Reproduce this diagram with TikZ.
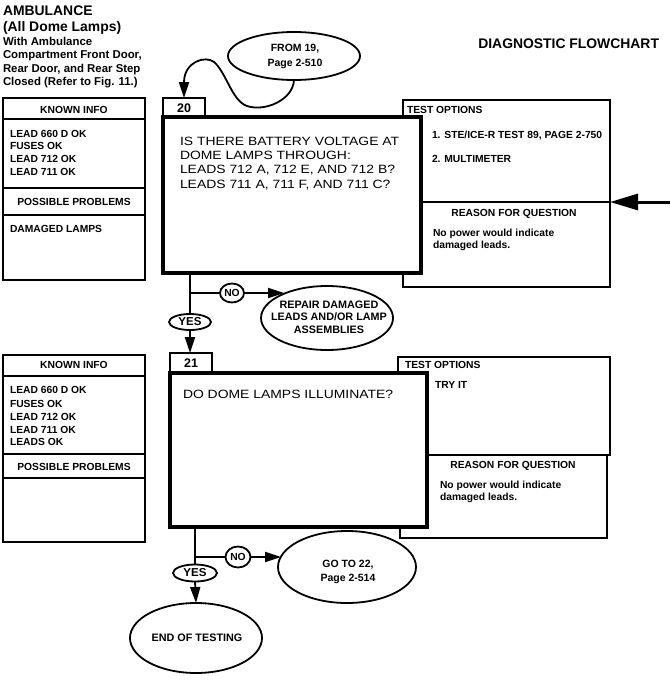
\documentclass[tikz,border=0pt]{standalone}
\usepackage{fontspec}
\setmainfont{Liberation Sans}
\newfontfamily\qfont[FakeStretch=1.16]{Liberation Sans}
\usetikzlibrary{arrows.meta,shapes.geometric}
\newcommand\myTitle{\fontsize{13.9}{16}\selectfont\bfseries}
\newcommand\myNote{\fontsize{11.4}{13.5}\selectfont\bfseries}
\newcommand\mySmall{\fontsize{10.3}{12.5}\selectfont\bfseries}
\newcommand\myYes{\fontsize{11.5}{12.5}\selectfont\bfseries}
\newcommand\myOval{\fontsize{10.5}{14.5}\selectfont\bfseries}
\newcommand\myRep{\fontsize{10.8}{12.6}\selectfont\bfseries}
\newcommand\myQ{\qfont\fontsize{12}{14.3}\selectfont}
\newcommand\myNum{\fontsize{12.5}{14}\selectfont\bfseries}
\begin{document}
\begin{tikzpicture}[x=1pt,y=-1pt,
  every node/.style={inner sep=0pt, outer sep=0pt},
  pbox/.style={draw, line width=1.3pt, anchor=north west, fill=white},
  qbox/.style={draw, line width=4pt, anchor=north west, fill=white},
  myoval/.style={draw, ellipse, line width=1.8pt, fill=white},
  conn/.style={line width=1.8pt},
  arr/.style={-{Triangle[length=16pt,width=10pt]}},
  itxt/.style={anchor=base west, font=\mySmall},
  hdtxt/.style={anchor=center, font=\mySmall},
  qtxt/.style={anchor=base west, font=\myQ},
]
\useasboundingbox (0,0) rectangle (670,699);

% header texts
\node[anchor=base west,font=\myTitle] (t1) at (3,15) {AMBULANCE};
\node[anchor=base west,font=\myTitle] (t2) at (3,31) {(All Dome Lamps)};
\node[anchor=base west,font=\myNote] (t3) at (3,45) {With Ambulance};
\node[anchor=base west,font=\myNote] (t4) at (3,58) {Compartment Front Door,};
\node[anchor=base west,font=\myNote] (t5) at (3,72) {Rear Door, and Rear Step};
\node[anchor=base west,font=\myNote] (t6) at (3,85) {Closed (Refer to Fig. 11.)};
\node[anchor=base east,font=\myTitle] (t7) at (659,48) {DIAGNOSTIC FLOWCHART};

% FROM ellipse
\node[myoval, minimum width=132pt, minimum height=48pt] (from) at (294,56) {};
\node[font=\myOval, align=center] (fromtxt) at (295,56.5) {FROM 19,\\Page 2-510};

% ---------- block 20 ----------
\node[pbox, minimum width=142pt, minimum height=21pt] (kn1) at (3,98) {};
\node[pbox, minimum width=142pt, minimum height=69pt] (kl1) at (3,119) {};
\node[pbox, minimum width=142pt, minimum height=27pt] (pp1) at (3,188) {};
\node[pbox, minimum width=142pt, minimum height=65pt] (pl1) at (3,215) {};
\node[hdtxt] (kn1t) at (74,110) {KNOWN INFO};
\node[itxt] (k1a) at (10,137) {LEAD 660 D OK};
\node[itxt] (k1b) at (10,149) {FUSES OK};
\node[itxt] (k1c) at (10,162) {LEAD 712 OK};
\node[itxt] (k1d) at (10,175) {LEAD 711 OK};
\node[hdtxt] (pp1t) at (74,202) {POSSIBLE PROBLEMS};
\node[itxt] (p1a) at (10,232) {DAMAGED LAMPS};

\node[pbox, minimum width=207pt, minimum height=102pt] (opt20) at (403,100) {};
\node[pbox, minimum width=207pt, minimum height=85pt] (rsn20) at (403,202) {};
\node[itxt] (o20h) at (407,113) {TEST OPTIONS};
\node[itxt] (o20a) at (432,138) {1. STE/ICE-R TEST 89, PAGE 2-750};
\node[itxt] (o20b) at (432,162) {2. MULTIMETER};
\node[hdtxt] (r20h) at (514,214) {REASON FOR QUESTION};
\node[itxt] (r20a) at (433,236) {No power would indicate};
\node[itxt] (r20b) at (433,248) {damaged leads.};

\node[pbox, minimum width=42pt, minimum height=19pt] (lab20) at (163,98) {};
\node[font=\myNum] (lab20t) at (184,108) {20};
\node[qbox, minimum width=258pt, minimum height=156pt] (q20) at (163,117) {};
\node[qtxt] (q20a) at (180,145) {IS THERE BATTERY VOLTAGE AT};
\node[qtxt] (q20b) at (180,159) {DOME LAMPS THROUGH:};
\node[qtxt] (q20c) at (180,173) {LEADS 712 A, 712 E, AND 712 B?};
\node[qtxt] (q20d) at (180,188) {LEADS 711 A, 711 F, AND 711 C?};

% arrow from FROM 19
\draw[conn,arr] (from.south) .. controls (293,100) and (265,112) .. (247,106)
  .. controls (232,101) and (226,72) .. (214,62)
  .. controls (205,55) and (184,62) .. (lab20.north);

% incoming arrow at right
\coordinate (rin) at (670,202);
\draw[line width=3pt,-{Triangle[length=28pt,width=16pt]}] (rin) -- (opt20.south east);

% branches of 20
\node[myoval, minimum width=42pt, minimum height=16pt, font=\myYes] (yes20) at (190,322) {YES};
\node[myoval, minimum width=24pt, minimum height=19pt, font=\mySmall] (no20) at (232,293) {NO};
\node[myoval, minimum width=132pt, minimum height=64pt] (rep) at (327,318) {};
\node[font=\myRep, align=center] (reptxt) at (329,317) {REPAIR DAMAGED\\LEADS AND/OR LAMP\\ASSEMBLIES};
\coordinate (br20) at (190,293);
\coordinate (rep20in) at (284,293);
\draw[conn] (yes20.north |- q20.south) -- (yes20.north);
\draw[conn] (br20) -- (no20.west);
\draw[conn,arr] (no20.east) -- (rep20in);

% ---------- block 21 ----------
\node[pbox, minimum width=142pt, minimum height=21pt] (kn2) at (3,355) {};
\node[pbox, minimum width=142pt, minimum height=78pt] (kl2) at (3,376) {};
\node[pbox, minimum width=142pt, minimum height=24pt] (pp2) at (3,454) {};
\node[pbox, minimum width=142pt, minimum height=64pt] (pl2) at (3,478) {};
\node[hdtxt] (kn2t) at (74,365) {KNOWN INFO};
\node[itxt] (k2a) at (10,393) {LEAD 660 D OK};
\node[itxt] (k2b) at (10,407) {FUSES OK};
\node[itxt] (k2c) at (10,420) {LEAD 712 OK};
\node[itxt] (k2d) at (10,433) {LEAD 711 OK};
\node[itxt] (k2e) at (10,445) {LEADS OK};
\node[hdtxt] (pp2t) at (74,467) {POSSIBLE PROBLEMS};

\node[pbox, minimum width=212pt, minimum height=98pt] (opt21) at (398,357) {};
\node[pbox, minimum width=207pt, minimum height=83pt] (rsn21) at (400,455) {};
\node[itxt] (o21h) at (405,368) {TEST OPTIONS};
\node[itxt] (o21a) at (435,388) {TRY IT};
\node[hdtxt] (r21h) at (513,466) {REASON FOR QUESTION};
\node[itxt] (r21a) at (440,488) {No power would indicate};
\node[itxt] (r21b) at (440,500) {damaged leads.};

\node[pbox, minimum width=42pt, minimum height=20pt] (lab21) at (170,353) {};
\node[font=\myNum] (lab21t) at (191,363) {21};
\node[qbox, minimum width=257pt, minimum height=154pt] (q21) at (170,373) {};
\node[qtxt] (q21a) at (183,398) {DO DOME LAMPS ILLUMINATE?};

\draw[conn,arr] (yes20.south) -- (yes20.south |- lab21.north);

% branches of 21
\node[myoval, minimum width=44pt, minimum height=17pt, font=\myYes] (yes21) at (195,573) {YES};
\node[myoval, minimum width=25pt, minimum height=21pt, font=\mySmall] (no21) at (238,557) {NO};
\node[myoval, minimum width=138pt, minimum height=72pt] (goto) at (347,567) {};
\node[font=\myOval, align=center] (gototxt) at (348,572) {GO TO 22,\\Page 2-514};
\node[myoval, minimum width=132pt, minimum height=70pt] (endt) at (196,638) {};
\node[font=\myRep] (endtxt) at (197,638) {END OF TESTING};
\coordinate (br21) at (195,557);
\coordinate (gotoin) at (281,557);
\draw[conn] (yes21.north |- q21.south) -- (yes21.north);
\draw[conn] (br21) -- (no21.west);
\draw[conn,arr] (no21.east) -- (gotoin);
\draw[conn,arr] (yes21.south) -- (endt.north);
\end{tikzpicture}
\end{document}
